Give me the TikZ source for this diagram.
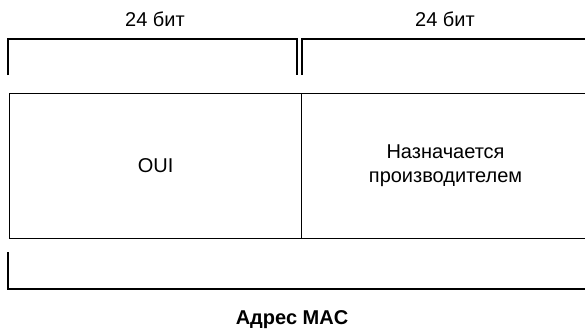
\documentclass[tikz,border=0pt]{standalone}
\usepackage{fontspec}
\setmainfont{Liberation Sans}
\usetikzlibrary{positioning}
\begin{document}
\begin{tikzpicture}[x=1pt,y=-1pt,font=\fontsize{20}{24}\selectfont,line width=1.1pt]
\tikzstyle{field}=[draw,minimum height=145pt,inner sep=0pt,anchor=north west,align=center]
\useasboundingbox (0,0) rectangle (585,335);
\clip (0,0) rectangle (585,335);
\node (w1) at (155,19) {24 бит};
\node (w2) at (445,19) {24 бит};
% brackets over the two halves
\draw (8,75) -- (8,39) -- (297,39) -- (297,75);
\draw (302,75) -- (302,39) -- (600,39);
\node[field,minimum width=292pt] (oui) at (9,93) {\raisebox{-3pt}{OUI}};
\node[field,minimum width=288pt] (vend) at (301,93) {\raisebox{-5pt}{Назначается}\\\raisebox{-5pt}{производителем}};
% bracket under the whole address
\draw (8,252) -- (8,289) -- (600,289);
\node[font=\fontsize{20}{24}\selectfont\bfseries] (mac) at (292,320) {Адрес MAC};
\end{tikzpicture}
\end{document}
